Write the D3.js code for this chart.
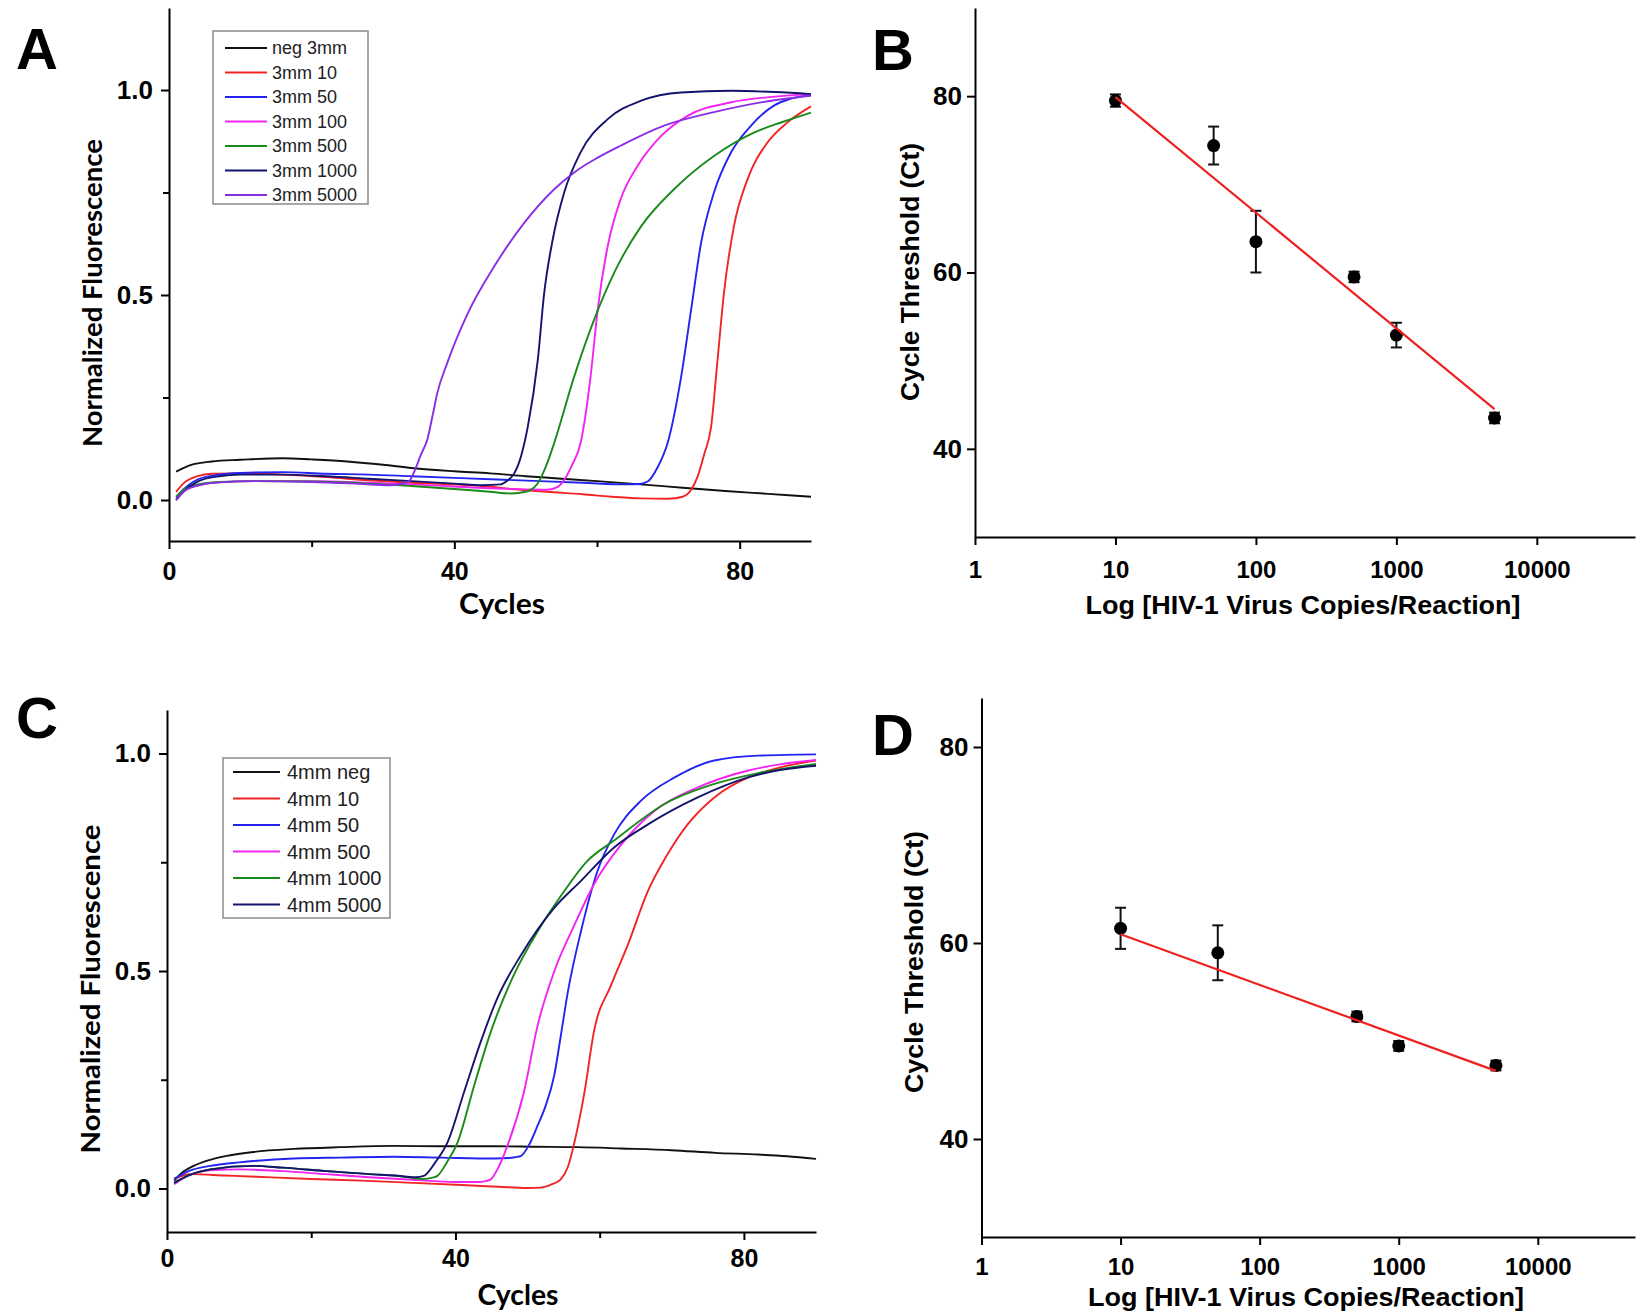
<!DOCTYPE html>
<html><head><meta charset="utf-8">
<script src="https://cdnjs.cloudflare.com/ajax/libs/d3/7.8.5/d3.min.js"></script>
<style>body{margin:0;background:#fff}</style>
</head><body>
<script>
// ---------------- DATA ----------------
// Panel A : 3 mm, normalized fluorescence vs cycles ([cycle, value])
const legendA = ["neg 3mm","3mm 10","3mm 50","3mm 100","3mm 500","3mm 1000","3mm 5000"];
const colorsA = ["#111111","#f22424","#2424f2","#f224f2","#1a8a1a","#14146e","#8a2ee6"];
const a_neg = [[1,0.069],[3,0.085],[6,0.094],[10,0.098],[16,0.102],[20,0.099],[25,0.094],[30,0.086],[34,0.078],[40,0.070],[45,0.065],[50,0.058],[55,0.052],[60,0.046],[67,0.037],[72,0.030],[78,0.022],[84,0.015],[90,0.008]];
const a_10 = [[1,0.02],[2,0.04],[4,0.058],[6,0.064],[10,0.065],[16,0.062],[22,0.056],[28,0.048],[34,0.042],[40,0.038],[44,0.034],[48,0.027],[53,0.02],[58,0.014],[62,0.008],[66,0.004],[70,0.003],[72,0.008],[73.2,0.025],[74.1,0.057],[75,0.11],[76,0.179],[76.9,0.342],[77.8,0.505],[79.2,0.668],[81.1,0.782],[83.9,0.872],[86.7,0.921],[90,0.96]];
const a_50 = [[1,0.005],[2,0.025],[4,0.05],[7,0.062],[10,0.066],[16,0.068],[22,0.064],[28,0.062],[34,0.058],[40,0.054],[46,0.05],[52,0.046],[58,0.042],[64,0.038],[66,0.039],[67.1,0.045],[68.5,0.08],[69.9,0.139],[71.8,0.301],[73.2,0.465],[74.6,0.628],[76.4,0.75],[78.8,0.848],[81.6,0.913],[84.8,0.962],[87,0.978],[90,0.988]];
const a_100 = [[1,0.0],[2,0.02],[4,0.035],[7,0.043],[12,0.046],[20,0.046],[28,0.042],[34,0.038],[40,0.033],[46,0.028],[50,0.026],[53,0.025],[54.5,0.032],[55.4,0.049],[56.5,0.085],[57.7,0.139],[59.1,0.301],[60.1,0.465],[61.5,0.619],[63.3,0.733],[65.7,0.815],[69,0.888],[72.7,0.937],[78.8,0.970],[85.8,0.985],[90,0.99]];
const a_500 = [[1,0.008],[2,0.025],[4,0.038],[7,0.044],[12,0.046],[20,0.045],[28,0.04],[34,0.034],[40,0.027],[45,0.02],[48,0.016],[50,0.02],[51.7,0.041],[52.8,0.08],[54,0.139],[56.8,0.301],[59.6,0.440],[62.4,0.554],[66.2,0.668],[70.8,0.758],[76.4,0.839],[82,0.896],[86,0.922],[90,0.945]];
const a_1000 = [[1,0.0],[2,0.02],[4,0.045],[7,0.058],[10,0.062],[16,0.062],[22,0.058],[28,0.052],[34,0.046],[40,0.04],[44,0.036],[46.5,0.038],[47.5,0.048],[48.4,0.065],[49.4,0.11],[50.3,0.179],[51.7,0.342],[52.6,0.505],[53.8,0.636],[55.4,0.75],[57.7,0.848],[61.5,0.929],[66.2,0.974],[71.8,0.994],[78.8,0.998],[85,0.995],[90,0.99]];
const a_5000 = [[1,0.0],[2,0.02],[4,0.035],[7,0.043],[12,0.046],[20,0.044],[26,0.04],[31,0.036],[33.6,0.045],[34.4,0.07],[35.3,0.11],[36.2,0.147],[37.0,0.21],[37.6,0.26],[39.0,0.334],[41.9,0.456],[45.6,0.570],[49.8,0.676],[54,0.758],[56.8,0.799],[60.1,0.835],[63.3,0.864],[69.4,0.913],[76.4,0.946],[83.4,0.971],[90,0.986]];

// Panel C : 4 mm
const legendC = ["4mm neg","4mm 10","4mm 50","4mm 500","4mm 1000","4mm 5000"];
const colorsC = ["#111111","#f22424","#2424f2","#f224f2","#1a8a1a","#14146e"];
const c_neg = [[1,0.018],[2,0.035],[3.7,0.052],[6,0.066],[8.3,0.075],[12,0.084],[17.6,0.091],[24,0.095],[31.5,0.098],[38,0.097],[45.5,0.097],[51,0.096],[57,0.095],[63,0.092],[70,0.088],[76,0.082],[82,0.078],[86,0.074],[90,0.068]];
const c_10 = [[1,0.022],[3.3,0.033],[8,0.030],[12.5,0.027],[20,0.022],[27,0.018],[34,0.013],[40.9,0.008],[46,0.004],[50,0.001],[51.8,0.002],[53.4,0.01],[54.6,0.021],[55.6,0.05],[56.5,0.106],[57.9,0.222],[59.2,0.36],[61.6,0.468],[63.9,0.56],[66.7,0.684],[69.4,0.768],[72.2,0.837],[75.9,0.899],[80.6,0.945],[85,0.968],[90,0.984]];
const c_50 = [[1,0.022],[3,0.04],[6,0.052],[10,0.06],[17.6,0.069],[24,0.071],[31.5,0.073],[38,0.071],[45.5,0.069],[47.5,0.07],[48.3,0.072],[49.1,0.075],[50.2,0.1],[51.4,0.145],[52.5,0.19],[53.7,0.26],[54.6,0.35],[55.6,0.453],[57.4,0.591],[59.7,0.73],[62,0.814],[65.7,0.891],[70.4,0.945],[75.9,0.984],[82,0.995],[90,0.998]];
const c_500 = [[1,0.01],[3,0.03],[6,0.042],[10,0.044],[16,0.04],[22,0.033],[28,0.026],[34,0.02],[40,0.015],[43,0.015],[44.2,0.017],[44.9,0.021],[46,0.05],[47.2,0.098],[49.5,0.222],[51.4,0.375],[53.7,0.499],[56.5,0.606],[59.2,0.699],[63,0.791],[67.6,0.868],[73.6,0.922],[80.6,0.961],[85,0.975],[90,0.985]];
const c_1000 = [[1,0.013],[3,0.03],[6,0.044],[12,0.052],[16,0.048],[22.2,0.04],[28,0.033],[31.5,0.03],[35.6,0.022],[36.8,0.025],[37.5,0.029],[38.8,0.06],[40.3,0.106],[42.6,0.237],[44.9,0.36],[48.1,0.491],[51.4,0.591],[55.1,0.684],[58.3,0.753],[62,0.8],[69,0.884],[75.9,0.93],[82,0.955],[90,0.976]];
const c_5000 = [[1,0.013],[3,0.03],[6,0.044],[12,0.052],[16,0.048],[22.2,0.04],[28,0.033],[31.5,0.03],[34.5,0.026],[35.6,0.029],[37.2,0.06],[38.9,0.106],[41.2,0.222],[43.5,0.337],[45.8,0.437],[49.1,0.537],[53.7,0.645],[57.4,0.707],[62,0.784],[66.7,0.837],[73.6,0.899],[80.6,0.945],[85,0.962],[90,0.972]];

// Axis ticks for curve panels
const cycleTicks = [0, 40, 80];
const cycleMinor = [20, 60];
const fluorTicks = [0, 0.5, 1.0];
const fluorMinor = [0.25, 0.75];

// Panel B : standard curve 3 mm
const copiesB = [10, 50, 100, 500, 1000, 5000];
const ctB = [79.5, 74.4, 63.5, 59.5, 52.9, 43.5];
const errB = [0.7, 2.15, 3.5, 0.6, 1.4, 0.6];
const fitB = [[10, 79.9], [5000, 44.5]];

// Panel D : standard curve 4 mm
const copiesD = [10, 50, 500, 1000, 5000];
const ctD = [61.5, 59.0, 52.5, 49.5, 47.5];
const errD = [2.1, 2.8, 0.5, 0.5, 0.5];
const fitD = [[10, 60.9], [5000, 46.95]];

const copyTicks = [1, 10, 100, 1000, 10000];
const ctTicks = [40, 60, 80];

// ---------------- DRAWING ----------------
const W = 1637, H = 1316;
const svg = d3.select("body").append("svg").attr("width", W).attr("height", H);
svg.append("rect").attr("width", W).attr("height", H).attr("fill", "#ffffff");

const TICKFONT = "'Liberation Sans', Arial, sans-serif";
const TITLEFONT = "Lato, 'Open Sans', sans-serif";

function styleAxis(g, fs) {
  g.selectAll(".domain").attr("stroke", "#000").attr("stroke-width", 2);
  g.selectAll(".tick line").attr("stroke", "#000").attr("stroke-width", 2);
  g.selectAll(".tick text").attr("fill", "#000").style("font-family", TICKFONT)
    .style("font-weight", "bold").style("font-size", (fs || 24) + "px");
}

function letter(txt, x, y) {
  svg.append("text").attr("x", x).attr("y", y).text(txt)
    .style("font-family", TICKFONT).style("font-weight", "bold").style("font-size", "58px");
}

function curvePanel(o) {
  const x = d3.scaleLinear().domain([0, 90]).range([o.left, o.right]);
  const y = d3.scaleLinear().domain(o.yDomain).range([o.bottom, o.top]);
  const g = svg.append("g");
  const line = d3.line().x(d => x(d[0])).y(d => y(d[1])).curve(d3.curveMonotoneX);
  o.series.forEach((s, i) => {
    g.append("path").attr("d", line(s)).attr("fill", "none")
      .attr("stroke", o.colors[i]).attr("stroke-width", 1.9).attr("stroke-linejoin", "round");
  });
  const xa = g.append("g").attr("transform", `translate(0,${o.bottom})`)
    .call(d3.axisBottom(x).tickValues(cycleTicks).tickFormat(d3.format("d")).tickSize(8).tickSizeOuter(0).tickPadding(o.xPad));
  styleAxis(xa, 25);
  const xm = g.append("g").attr("transform", `translate(0,${o.bottom})`)
    .call(d3.axisBottom(x).tickValues(cycleMinor).tickFormat("").tickSize(6).tickSizeOuter(0));
  xm.select(".domain").remove(); styleAxis(xm);
  const ya = g.append("g").attr("transform", `translate(${o.left},0)`)
    .call(d3.axisLeft(y).tickValues(fluorTicks).tickFormat(d3.format(".1f")).tickSize(8).tickSizeOuter(0).tickPadding(8));
  styleAxis(ya, 26);
  const ym = g.append("g").attr("transform", `translate(${o.left},0)`)
    .call(d3.axisLeft(y).tickValues(fluorMinor).tickFormat("").tickSize(6).tickSizeOuter(0));
  ym.select(".domain").remove(); styleAxis(ym);

  // legend
  const L = o.legend;
  g.append("rect").attr("x", L.x).attr("y", L.y).attr("width", L.w).attr("height", L.h)
    .attr("fill", "#fff").attr("stroke", "#8a8a8a").attr("stroke-width", 1.5);
  o.names.forEach((n, i) => {
    const cy = L.y0 + i * L.dy;
    g.append("line").attr("x1", L.lx1).attr("x2", L.lx2).attr("y1", cy).attr("y2", cy)
      .attr("stroke", o.colors[i]).attr("stroke-width", 2.2);
    g.append("text").attr("x", L.tx).attr("y", cy).attr("dy", "0.35em").text(n)
      .style("font-family", TICKFONT).style("font-size", L.fs + "px").attr("fill", "#222");
  });

  // titles
  g.append("text").attr("x", o.xTitle[0]).attr("y", o.xTitle[1]).attr("text-anchor", "middle")
    .text("Cycles").style("font-family", TITLEFONT).style("font-weight", "bold").style("font-size", "29px")
    .attr("textLength", o.xTitle[2]).attr("lengthAdjust", "spacingAndGlyphs");
  g.append("text").attr("transform", `translate(${o.yTitle[0]},${o.yTitle[1]}) rotate(-90)`)
    .attr("text-anchor", "middle").attr("dominant-baseline", "central")
    .text("Normalized Fluorescence").style("font-family", TITLEFONT).style("font-weight", "bold").style("font-size", "26px")
    .attr("textLength", o.yTitle[2]).attr("lengthAdjust", "spacingAndGlyphs");
}

function stdPanel(o) {
  const x = d3.scaleLog().domain([1, 50000]).range([o.left, o.right]);
  const y = d3.scaleLinear().domain(o.yDomain).range([o.bottom, o.top]);
  const g = svg.append("g");
  const xa = g.append("g").attr("transform", `translate(0,${o.bottom})`)
    .call(d3.axisBottom(x).tickValues(copyTicks).tickFormat(d3.format("d")).tickSize(8).tickSizeOuter(0).tickPadding(o.xPad));
  styleAxis(xa, 24);
  const ya = g.append("g").attr("transform", `translate(${o.left},0)`)
    .call(d3.axisLeft(y).tickValues(ctTicks).tickFormat(d3.format("d")).tickSize(8).tickSizeOuter(0).tickPadding(5));
  styleAxis(ya, 26);

  // error bars
  o.xs.forEach((c, i) => {
    const px = x(c), y1 = y(o.ys[i] - o.es[i]), y2 = y(o.ys[i] + o.es[i]);
    g.append("line").attr("x1", px).attr("x2", px).attr("y1", y1).attr("y2", y2).attr("stroke", "#111").attr("stroke-width", 2);
    [y1, y2].forEach(yy => g.append("line").attr("x1", px - 5.5).attr("x2", px + 5.5).attr("y1", yy).attr("y2", yy)
      .attr("stroke", "#111").attr("stroke-width", 2));
  });
  // points
  g.selectAll("circle.pt").data(o.xs).enter().append("circle")
    .attr("cx", d => x(d)).attr("cy", (d, i) => y(o.ys[i])).attr("r", 6.5).attr("fill", "#000");
  // fit line
  g.append("line").attr("x1", x(o.fit[0][0])).attr("y1", y(o.fit[0][1]))
    .attr("x2", x(o.fit[1][0])).attr("y2", y(o.fit[1][1])).attr("stroke", "#ee2020").attr("stroke-width", 2.2);

  g.append("text").attr("x", o.xTitle[0]).attr("y", o.xTitle[1]).attr("text-anchor", "middle")
    .text("Log [HIV-1 Virus Copies/Reaction]").style("font-family", TICKFONT).style("font-weight", "bold").style("font-size", "25px")
    .attr("textLength", o.xTitle[2]).attr("lengthAdjust", "spacingAndGlyphs");
  g.append("text").attr("transform", `translate(${o.yTitle[0]},${o.yTitle[1]}) rotate(-90)`)
    .attr("text-anchor", "middle").attr("dominant-baseline", "central")
    .text("Cycle Threshold (Ct)").style("font-family", TICKFONT).style("font-weight", "bold").style("font-size", "26px")
    .attr("textLength", o.yTitle[2]).attr("lengthAdjust", "spacingAndGlyphs");
}

curvePanel({
  left: 169, right: 811, top: 8, bottom: 541, yDomain: [-0.1, 1.2], xPad: 13,
  series: [a_neg, a_10, a_50, a_100, a_500, a_1000, a_5000], colors: colorsA, names: legendA,
  legend: { x: 213, y: 31, w: 155, h: 173, y0: 48, dy: 24.5, lx1: 225, lx2: 267, tx: 272, fs: 18 },
  xTitle: [502, 614, 86], yTitle: [92, 293, 308]
});
curvePanel({
  left: 167, right: 816, top: 710, bottom: 1232, yDomain: [-0.1, 1.1], xPad: 9,
  series: [c_neg, c_10, c_50, c_500, c_1000, c_5000], colors: colorsC, names: legendC,
  legend: { x: 223, y: 758, w: 167, h: 160, y0: 772, dy: 26.5, lx1: 233, lx2: 280, tx: 287, fs: 20 },
  xTitle: [518, 1305, 81], yTitle: [90, 989, 329]
});
stdPanel({
  left: 975, right: 1635, top: 8, bottom: 537, yDomain: [30, 90], xPad: 16,
  xs: copiesB, ys: ctB, es: errB, fit: fitB,
  xTitle: [1303, 614, 435], yTitle: [910, 272, 258]
});
stdPanel({
  left: 981.5, right: 1635, top: 698, bottom: 1237, yDomain: [30, 85], xPad: 13,
  xs: copiesD, ys: ctD, es: errD, fit: fitD,
  xTitle: [1306, 1306, 436], yTitle: [914, 962, 262]
});

letter("A", 16, 69);
letter("B", 872, 70);
letter("C", 16, 738);
letter("D", 872, 755);
</script>
</body></html>
